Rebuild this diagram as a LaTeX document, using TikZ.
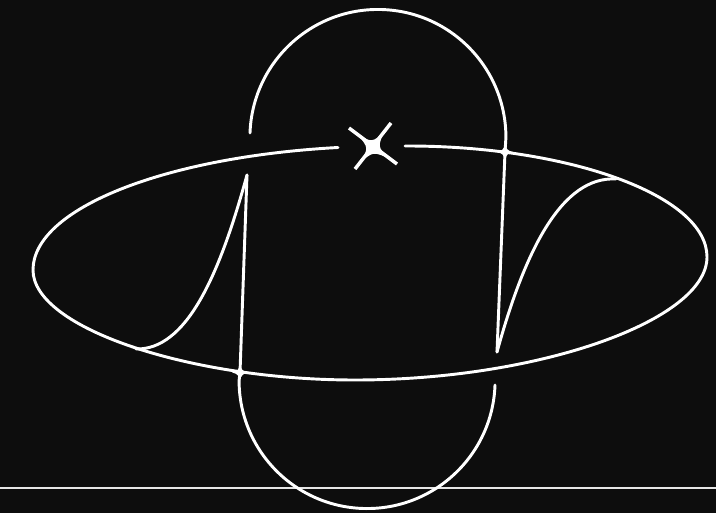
\documentclass[tikz,border=0pt]{standalone}
\usepackage{tikz}
\usetikzlibrary{positioning}
\definecolor{bgdark}{HTML}{0D0D0D}
\newcommand{\crossfill}[1]{\fill[white, shift={(#1)}] (0,-8) .. controls (1,-3) and (3,-1) .. (8,0) .. controls (3,1) and (1,3) .. (0,8) .. controls (-1,3) and (-3,1) .. (-8,0) .. controls (-3,-1) and (-1,-3) .. (0,-8) -- cycle;}

\begin{document}
\begin{tikzpicture}[
  x=0.75pt,
  y=-0.75pt,
  curve/.style={draw=white, line width=2.2pt, line cap=round, line join=round},
  arm/.style={draw=white, line width=2.6pt},
  groundline/.style={draw=white!90!black, line width=1.3pt},
  blob/.style={circle, fill=white, inner sep=0pt, minimum size=10.5pt}
]
\fill[bgdark] (0,0) rectangle (716,513);
\useasboundingbox (0,0) rectangle (716,513);

\coordinate (groundleft) at (0,488);
\coordinate (groundright) at (716,488);
\coordinate (cuspright) at (497,352);
\coordinate (cuspleft) at (247,175);
\coordinate (touchright) at (616,179);
\coordinate (touchleft) at (136,349);
\coordinate (crossright) at (505,152);
\coordinate (crossleft) at (240,372.5);
\node[blob] (centre) at (373,147) {};
\coordinate (armnw) at (349,128);
\coordinate (armne) at (391,123);
\coordinate (armsw) at (355,169);
\coordinate (armse) at (397,164);
\coordinate (gapright) at (405,146);
\coordinate (gapleft) at (338,147.5);

\draw[groundline] (groundleft) -- (groundright);

% big oval, open at the top
\draw[curve] (gapright) .. controls (567,145.5) and (707,195) .. (707,257)
  .. controls (707,320) and (540,380) .. (355,380)
  .. controls (190,380) and (33,328) .. (33,270)
  .. controls (33,208.8) and (164.2,156.9) .. (gapleft);

% upper loop
\draw[curve] (250,133) arc[start angle=182, end angle=360, radius=128] -- (crossright) -- (cuspright);
\draw[curve] (cuspright) .. controls (525,250) and (562,176) .. (touchright);

% lower loop
\draw[curve] (495,385) arc[start angle=2, end angle=180, radius=128] -- (crossleft) -- (cuspleft);
\draw[curve] (cuspleft) .. controls (219,277) and (186,350) .. (touchleft);

% joints
\crossfill{crossright}
\crossfill{crossleft}
\fill[white, shift={(centre)}] (-14,-11) .. controls (-0.7,-5) .. (10.5,-14)
  .. controls (5,-0.7) .. (14,10.5) .. controls (0.6,5) .. (-11,13.5)
  .. controls (-5,0.6) .. (-14,-11) -- cycle;

% centre cross
\draw[arm] (armnw) -- (armse);
\draw[arm] (armne) -- (armsw);
\end{tikzpicture}
\end{document}
